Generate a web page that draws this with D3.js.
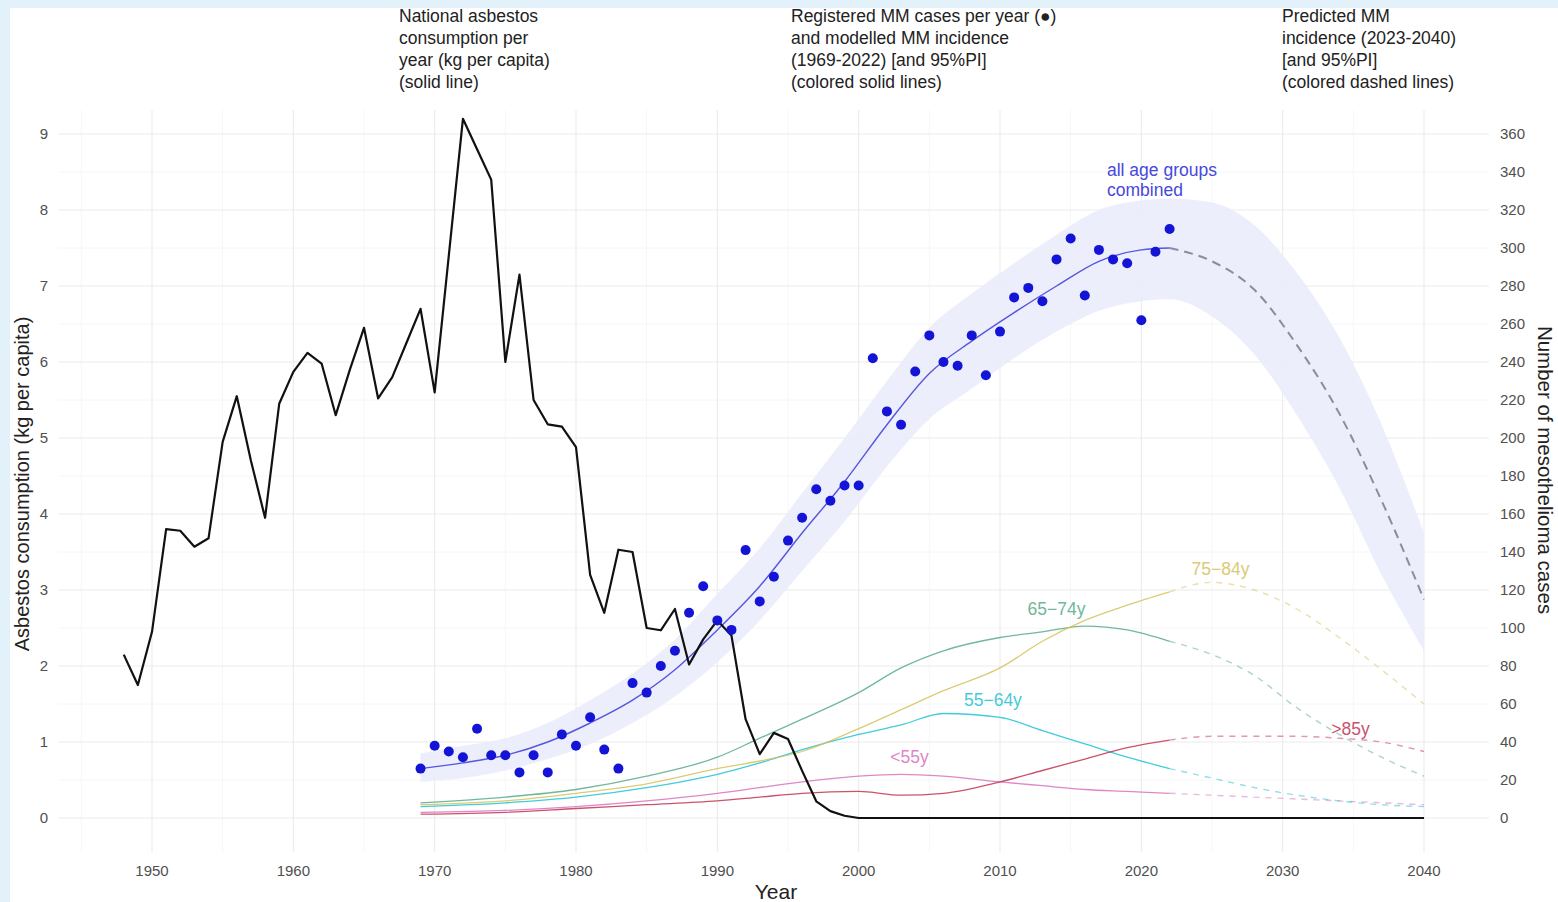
<!DOCTYPE html>
<html>
<head>
<meta charset="utf-8">
<script src="https://cdn.jsdelivr.net/npm/d3@7"></script>
<style>
  html, body { margin: 0; padding: 0; background: #fff; }
  svg { display: block; font-family: "Liberation Sans", Arial, sans-serif; }
</style>
</head>
<body>
<svg id="chart"></svg>
<script>
/* ------------ DATA --------------------------------------------------- */
// national asbestos consumption, kg per capita (left axis)
const consYears = [1948, 1949, 1950, 1951, 1952, 1953, 1954, 1955, 1956, 1957, 1958, 1959,
  1960, 1961, 1962, 1963, 1964, 1965, 1966, 1967, 1968, 1969, 1970, 1971, 1972, 1973, 1974,
  1975, 1976, 1977, 1978, 1979, 1980, 1981, 1982, 1983, 1984, 1985, 1986, 1987, 1988, 1989,
  1990, 1991, 1992, 1993, 1994, 1995, 1996, 1997, 1998, 1999, 2000, 2040];
const consValues = [2.15, 1.75, 2.45, 3.8, 3.78, 3.57, 3.68, 4.95, 5.55, 4.7, 3.95, 5.45,
  5.87, 6.12, 5.98, 5.3, 5.9, 6.45, 5.52, 5.8, 6.25, 6.7, 5.6, 7.4, 9.2, 8.8, 8.4,
  6.0, 7.15, 5.5, 5.18, 5.15, 4.88, 3.2, 2.7, 3.53, 3.5, 2.5, 2.47, 2.75, 2.02, 2.35,
  2.6, 2.4, 1.3, 0.84, 1.12, 1.04, 0.62, 0.22, 0.09, 0.03, 0, 0];

// registered MM cases per year (right axis)
const caseYears = [1969, 1970, 1971, 1972, 1973, 1974, 1975, 1976, 1977, 1978, 1979, 1980,
  1981, 1982, 1983, 1984, 1985, 1986, 1987, 1988, 1989, 1990, 1991, 1992, 1993, 1994, 1995,
  1996, 1997, 1998, 1999, 2000, 2001, 2002, 2003, 2004, 2005, 2006, 2007, 2008, 2009, 2010,
  2011, 2012, 2013, 2014, 2015, 2016, 2017, 2018, 2019, 2020, 2021, 2022];
const caseValues = [26, 38, 35, 32, 47, 33, 33, 24, 33, 24, 44, 38,
  53, 36, 26, 71, 66, 80, 88, 108, 122, 104, 99, 141, 114, 127, 146,
  158, 173, 167, 175, 175, 242, 214, 207, 235, 254, 240, 238, 254, 233, 256,
  274, 279, 272, 294, 305, 275, 299, 294, 292, 262, 298, 310];

// modelled incidence, all age groups (1969-2022) with 95% PI
const modelYears = [1969, 1972, 1975, 1978, 1981, 1984, 1987, 1990, 1993, 1996, 1999,
  2002, 2005, 2008, 2011, 2014, 2017, 2020, 2022];
const allModel = [26, 29, 33, 40, 50, 62, 78, 99, 122, 150, 177, 207, 234, 251, 266, 280, 293, 299, 300];
const allLow   = [19, 21, 25, 31, 39, 50, 64, 82, 104, 130, 156, 185, 210, 226, 242, 256, 267, 272, 273];
const allHigh  = [34, 38, 42, 50, 62, 76, 94, 118, 142, 171, 200, 230, 258, 276, 292, 307, 320, 325, 326];

// predicted incidence (2023-2040)
const foreYears = [2022, 2025, 2028, 2031, 2034, 2037, 2040];
const allFore     = [300, 293, 278, 249, 213, 167, 115];
const allForeLow  = [273, 264, 244, 212, 174, 128, 88];
const allForeHigh = [326, 324, 312, 287, 253, 207, 150];

// modelled incidence per age group
const ageYears = [1969, 1975, 1980, 1985, 1990, 1993, 1996, 2000, 2003, 2006, 2010, 2013, 2016, 2019, 2022];
const under55  = [3, 4, 6, 9, 13, 16, 19, 22, 23, 22, 19, 17, 15, 14, 13];
const age55_64 = [6, 8, 11, 16, 23, 29, 36, 44, 49, 55, 53, 46, 39, 32, 26];
const age65_74 = [8, 11, 15, 22, 32, 42, 52, 66, 79, 88, 95, 98, 101, 99, 93];
const age75_84 = [7, 9, 13, 18, 26, 30, 35, 47, 57, 67, 79, 93, 104, 112, 119];
const over85   = [2, 3, 5, 7, 9, 11, 13, 14, 12, 13, 19, 25, 31, 37, 41];

const under55F  = [13, 12, 11, 10, 9, 8, 7];
const age55_64F = [26, 21, 16, 12, 9, 7, 6];
const age65_74F = [93, 86, 75, 58, 44, 32, 22];
const age75_84F = [119, 124, 120, 110, 95, 78, 60];
const over85F   = [41, 43, 43, 43, 42, 40, 35];

const ageNames  = ['<55y', '55\u221264y', '65\u221274y', '75\u221284y', '>85y'];
const ageColors = ['#d872c0', '#1fc3d3', '#58ab8a', '#d6c25c', '#c23452'];
const ageLabelPos = [[2003.6, 32], [2009.5, 62], [2014, 110], [2025.6, 131], [2034.8, 47]];

const xTicks = [1950, 1960, 1970, 1980, 1990, 2000, 2010, 2020, 2030, 2040];
const leftTicks = [0, 1, 2, 3, 4, 5, 6, 7, 8, 9];
const rightTicks = [0, 20, 40, 60, 80, 100, 120, 140, 160, 180, 200, 220, 240, 260, 280, 300, 320, 340, 360];

const notes = [
  { x: 399, lines: ['National asbestos', 'consumption per', 'year (kg per capita)', '(solid line)'] },
  { x: 791, lines: ['Registered MM cases per year (\u25CF)', 'and modelled MM incidence', '(1969-2022) [and 95%PI]', '(colored solid lines)'] },
  { x: 1282, lines: ['Predicted MM', 'incidence (2023-2040)', '[and 95%PI]', '(colored dashed lines)'] }
];

/* ------------ SETUP -------------------------------------------------- */
const W = 1558, H = 902;
const panel = { left: 59, right: 1489, top: 110, bottom: 852 };

const svg = d3.select('#chart').attr('width', W).attr('height', H);

const x  = d3.scaleLinear().domain([1950, 2040]).range([152, 1424]);
const yL = d3.scaleLinear().domain([0, 9]).range([818, 134]);
const yR = d3.scaleLinear().domain([0, 360]).range([818, 134]);

// light page frame
svg.append('rect').attr('width', W).attr('height', 8).attr('fill', '#e3f2fa');
svg.append('rect').attr('width', 10).attr('height', H).attr('fill', '#e3f2fa');

/* ------------ GRID --------------------------------------------------- */
const grid = svg.append('g');
grid.selectAll('line.vminor').data([1945, 1955, 1965, 1975, 1985, 1995, 2005, 2015, 2025, 2035])
  .join('line')
  .attr('x1', d => x(d)).attr('x2', d => x(d))
  .attr('y1', panel.top).attr('y2', panel.bottom)
  .attr('stroke', '#f4f4f4').attr('stroke-width', 0.8);
grid.selectAll('line.hminor').data([0.5, 1.5, 2.5, 3.5, 4.5, 5.5, 6.5, 7.5, 8.5])
  .join('line')
  .attr('x1', panel.left).attr('x2', panel.right)
  .attr('y1', d => yL(d)).attr('y2', d => yL(d))
  .attr('stroke', '#f4f4f4').attr('stroke-width', 0.8);
grid.selectAll('line.vmajor').data(xTicks)
  .join('line')
  .attr('x1', d => x(d)).attr('x2', d => x(d))
  .attr('y1', panel.top).attr('y2', panel.bottom)
  .attr('stroke', '#ebebeb').attr('stroke-width', 1.1);
grid.selectAll('line.hmajor').data(leftTicks)
  .join('line')
  .attr('x1', panel.left).attr('x2', panel.right)
  .attr('y1', d => yL(d)).attr('y2', d => yL(d))
  .attr('stroke', '#ebebeb').attr('stroke-width', 1.1);

/* ------------ AXES --------------------------------------------------- */
const tickFont = 15, tickCol = '#505050';

svg.append('g').selectAll('text').data(xTicks).join('text')
  .attr('x', d => x(d)).attr('y', 876)
  .attr('text-anchor', 'middle').attr('font-size', tickFont).attr('fill', tickCol)
  .text(d => d);

svg.append('g').selectAll('text').data(leftTicks).join('text')
  .attr('x', 48).attr('y', d => yL(d) + 5)
  .attr('text-anchor', 'end').attr('font-size', tickFont).attr('fill', tickCol)
  .text(d => d);

svg.append('g').selectAll('text').data(rightTicks).join('text')
  .attr('x', 1500).attr('y', d => yR(d) + 5)
  .attr('text-anchor', 'start').attr('font-size', tickFont).attr('fill', tickCol)
  .text(d => d);

svg.append('text')
  .attr('transform', 'translate(29,484) rotate(-90)')
  .attr('text-anchor', 'middle').attr('font-size', 20).attr('fill', '#222')
  .text('Asbestos consumption (kg per capita)');

svg.append('text')
  .attr('transform', 'translate(1538,470) rotate(90)')
  .attr('text-anchor', 'middle').attr('font-size', 20.5).attr('fill', '#222')
  .text('Number of mesothelioma cases');

svg.append('text')
  .attr('x', 776).attr('y', 899)
  .attr('text-anchor', 'middle').attr('font-size', 21).attr('fill', '#222')
  .text('Year');

/* ------------ PI RIBBON --------------------------------------------- */
const area = d3.area().curve(d3.curveMonotoneX)
  .x(d => x(d.year)).y0(d => yR(d.lo)).y1(d => yR(d.hi));

const ribbonData = modelYears.map((yr, i) => ({ year: yr, lo: allLow[i], hi: allHigh[i] }))
  .concat(foreYears.slice(1).map((yr, i) => ({ year: yr, lo: allForeLow[i + 1], hi: allForeHigh[i + 1] })));

svg.append('path')
  .datum(ribbonData)
  .attr('d', area)
  .attr('fill', '#e9ebfb')
  .attr('opacity', 0.85);

/* ------------ AGE GROUP LINES --------------------------------------- */
const line = d3.line().curve(d3.curveMonotoneX).x(d => d[0]).y(d => d[1]);

const ageSeries = [under55, age55_64, age65_74, age75_84, over85];
const ageForecast = [under55F, age55_64F, age65_74F, age75_84F, over85F];

ageSeries.forEach((vals, k) => {
  svg.append('path')
    .attr('d', line(ageYears.map((yr, i) => [x(yr), yR(vals[i])])))
    .attr('fill', 'none')
    .attr('stroke', ageColors[k])
    .attr('stroke-width', 1.3)
    .attr('opacity', 0.85);
  svg.append('path')
    .attr('d', line(foreYears.map((yr, i) => [x(yr), yR(ageForecast[k][i])])))
    .attr('fill', 'none')
    .attr('stroke', ageColors[k])
    .attr('stroke-width', 1.4)
    .attr('stroke-dasharray', '6,6')
    .attr('opacity', 0.5);
  svg.append('text')
    .attr('x', x(ageLabelPos[k][0])).attr('y', yR(ageLabelPos[k][1]) + 6)
    .attr('text-anchor', 'middle').attr('font-size', 17.5)
    .attr('fill', ageColors[k]).attr('opacity', 0.85)
    .text(ageNames[k]);
});

/* ------------ ALL AGE GROUPS ---------------------------------------- */
svg.append('path')
  .attr('d', line(modelYears.map((yr, i) => [x(yr), yR(allModel[i])])))
  .attr('fill', 'none').attr('stroke', '#5656de').attr('stroke-width', 1.4);

svg.append('path')
  .attr('d', line(foreYears.map((yr, i) => [x(yr), yR(allFore[i])])))
  .attr('fill', 'none').attr('stroke', '#8c8ca0').attr('stroke-width', 2)
  .attr('stroke-dasharray', '9,6');

svg.append('text')
  .attr('font-size', 17.5).attr('fill', '#4747dc')
  .selectAll('tspan').data(['all age groups', 'combined']).join('tspan')
  .attr('x', 1107).attr('y', (d, i) => 176 + i * 20)
  .text(d => d);

/* ------------ CONSUMPTION LINE -------------------------------------- */
svg.append('path')
  .attr('d', d3.line().x(d => d[0]).y(d => d[1])(consYears.map((yr, i) => [x(yr), yL(consValues[i])])))
  .attr('fill', 'none').attr('stroke', '#111').attr('stroke-width', 2.2)
  .attr('stroke-linejoin', 'round');

/* ------------ REGISTERED CASES -------------------------------------- */
svg.append('g').selectAll('circle').data(caseYears).join('circle')
  .attr('cx', d => x(d))
  .attr('cy', (d, i) => yR(caseValues[i]))
  .attr('r', 5)
  .attr('fill', '#1414d6');

/* ------------ TOP NOTES ---------------------------------------------- */
notes.forEach(n => {
  svg.append('text')
    .attr('font-size', 17.5).attr('fill', '#222')
    .selectAll('tspan').data(n.lines).join('tspan')
    .attr('x', n.x).attr('y', (d, i) => 22 + i * 22)
    .text(d => d);
});
</script>
</body>
</html>
